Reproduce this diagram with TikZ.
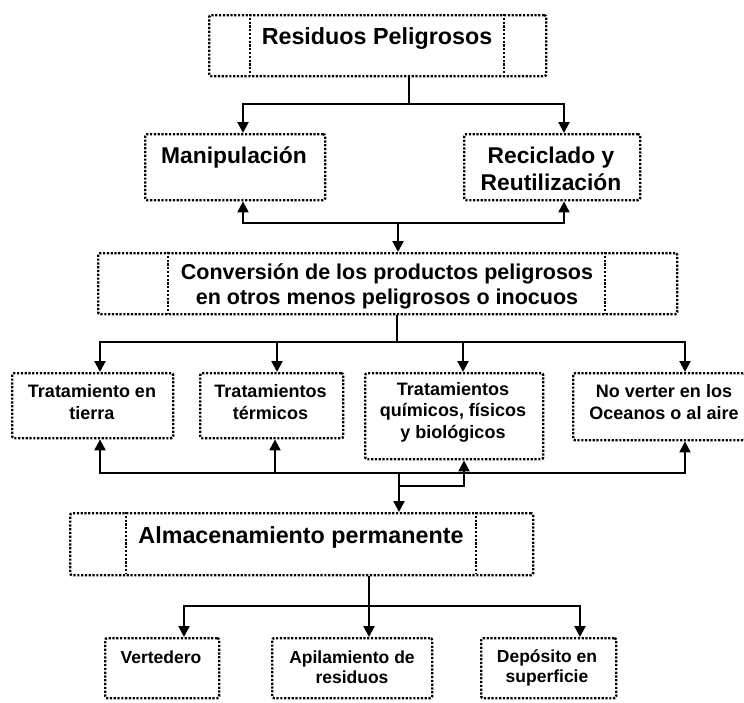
\documentclass[tikz,border=0pt]{standalone}
\usepackage{fontspec}
\setmainfont{Liberation Sans}
\usetikzlibrary{arrows.meta}
\begin{document}
\begin{tikzpicture}[x=1pt,y=-1pt,
  box/.style={draw, line width=2.4pt, dash pattern=on 2.2pt off 1.6pt, rounded corners=2pt, inner sep=0pt, anchor=north west},
  div/.style={line width=2.4pt, dash pattern=on 2.2pt off 1.6pt},
  conn/.style={line width=2.2pt},
  arr/.style={line width=2.2pt, -{Triangle[length=11pt,width=11pt]}},
  txt/.style={align=center, inner sep=0pt, font=\bfseries},
  huge/.style={txt, font=\bfseries\fontsize{23.3}{28}\selectfont},
  big/.style={txt, font=\bfseries\fontsize{22.8}{27}\selectfont},
  mid/.style={txt, font=\bfseries\fontsize{21.5}{25}\selectfont},
  sml/.style={txt, font=\bfseries\fontsize{18}{21.5}\selectfont},
  tiny/.style={txt, font=\bfseries\fontsize{17.5}{20.5}\selectfont}]
\useasboundingbox (0,0) rectangle (744,702);

% ---- boxes ----
\node[box, minimum width=337pt, minimum height=61pt] (res) at (208,14) {};
\draw[div] (250,14) -- (250,75);
\draw[div] (504,14) -- (504,75);
\node[huge] (restxt) at (377,39) {Residuos Peligrosos};

\node[box, minimum width=180pt, minimum height=66pt] (man) at (144,133) {};
\node[big] (mantxt) at (234,157) {Manipulación};
\node[box, minimum width=176pt, minimum height=66pt] (rec) at (463,133) {};
\node[big] (rectxt) at (551,169) {Reciclado y\\Reutilización};

\node[box, minimum width=579pt, minimum height=61pt] (conv) at (97,252) {};
\draw[div] (168,252) -- (168,313);
\draw[div] (605,252) -- (605,313);
\node[mid] (convtxt) at (387,286.5) {Conversión de los productos peligrosos\\en otros menos peligrosos o inocuos};

\node[box, minimum width=161pt, minimum height=65pt] (tie) at (11,372) {};
\node[sml] (tietxt) at (92,402) {Tratamiento en\\tierra};
\node[box, minimum width=143pt, minimum height=65pt] (ter) at (199,372) {};
\node[sml] (tertxt) at (270.5,402) {Tratamientos\\térmicos};
\node[box, minimum width=178pt, minimum height=86pt] (qui) at (364,372) {};
\node[sml] (quitxt) at (453,412) {Tratamientos\\químicos, físicos\\y biológicos};
\node[box, minimum width=172pt, minimum height=67pt] (nov) at (572,372) {};
\node[sml] (novtxt) at (664,402) {No verter en los\\Oceanos o al aire};

\node[box, minimum width=463pt, minimum height=62pt] (alm) at (69,512) {};
\draw[div] (126,512) -- (126,574);
\draw[div] (476,512) -- (476,574);
\node[huge] (almtxt) at (301,537) {Almacenamiento permanente};

\node[box, minimum width=114pt, minimum height=60pt] (ver) at (104,637) {};
\node[tiny] (vertxt) at (161,657) {Vertedero};
\node[box, minimum width=160pt, minimum height=60pt] (api) at (271,637) {};
\node[tiny] (apitxt) at (352,667) {Apilamiento de\\residuos};
\node[box, minimum width=135pt, minimum height=60pt] (dep) at (480,637) {};
\node[tiny] (deptxt) at (547,668) {Depósito en\\superficie};

% ---- junction coordinates ----
\coordinate (j1) at (409,104);
\coordinate (xa) at (243,0);
\coordinate (xb) at (564,0);
\coordinate (j2) at (398,223);
\coordinate (j3) at (397,342);
\coordinate (x1) at (100,0);
\coordinate (x2) at (277,0);
\coordinate (x3) at (463,0);
\coordinate (x4) at (685,0);
\coordinate (j4) at (399,473);
\coordinate (j5) at (399,486);
\coordinate (x2u) at (275,0);
\coordinate (x3u) at (464,0);
\coordinate (j6) at (369,606);
\coordinate (y1) at (184,0);
\coordinate (y3) at (580,0);

% ---- connectors ----
\draw[conn] (res.south -| j1) -- (j1);
\draw[arr] (j1) -| (xa |- man.north);
\draw[arr] (j1) -| (xb |- rec.north);

\draw[arr] (j2) -| (xa |- man.south);
\draw[arr] (j2) -| (xb |- rec.south);
\draw[arr] (j2) -- (j2 |- conv.north);

\draw[conn] (conv.south -| j3) -- (j3);
\draw[arr] (j3) -| (x1 |- tie.north);
\draw[arr] (j3) -| (x2 |- ter.north);
\draw[arr] (j3) -| (x3 |- qui.north);
\draw[arr] (j3) -| (x4 |- nov.north);

\draw[arr] (j4) -| (x1 |- tie.south);
\draw[arr] (j4) -| (x2u |- ter.south);
\draw[arr] (j4) -| (x4 |- nov.south);
\draw[arr] (j5) -| (x3u |- qui.south);
\draw[arr] (j4) -- (j4 |- alm.north);

\draw[conn] (alm.south -| j6) -- (j6);
\draw[arr] (j6) -| (y1 |- ver.north);
\draw[arr] (j6) -- (j6 |- api.north);
\draw[arr] (j6) -| (y3 |- dep.north);
\end{tikzpicture}
\end{document}
